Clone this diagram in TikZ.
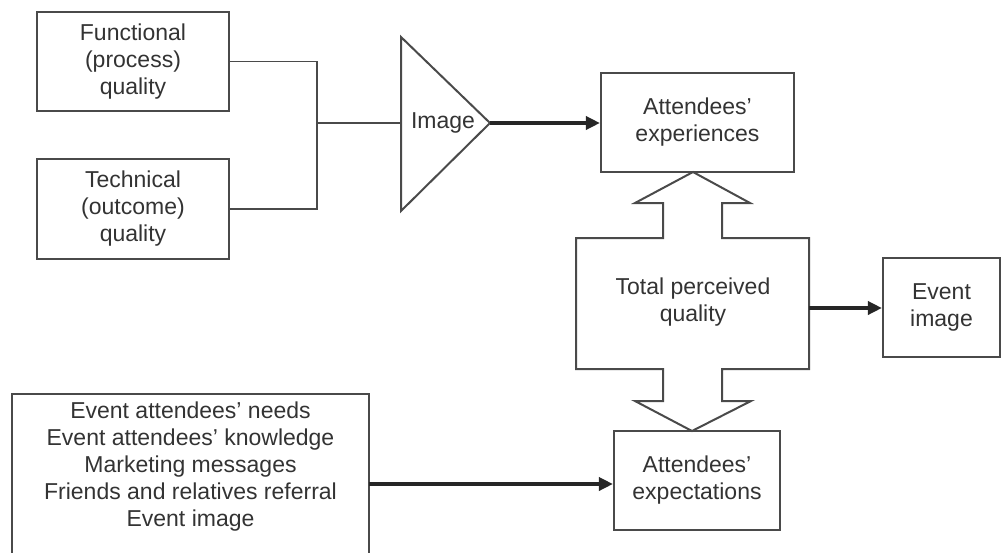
\documentclass[tikz,border=0pt]{standalone}
\usepackage{fontspec}
\setmainfont{Liberation Sans}
\usetikzlibrary{arrows.meta}
\definecolor{ink}{HTML}{333333}
\definecolor{edge}{HTML}{4A4A4A}
\begin{document}
\begin{tikzpicture}[x=1pt,y=-1pt,
  every node/.style={text=ink,font=\fontsize{23}{27}\selectfont,align=center,inner sep=0pt},
  box/.style={draw=edge,line width=2.1pt,rectangle},
  link/.style={draw=edge,line width=1.8pt},
  flow/.style={draw=black!85,line width=3.4pt,-{Triangle[length=14pt,width=13pt]}},
  outline/.style={draw=edge,line width=2pt,line join=miter}]
\useasboundingbox (0,0) rectangle (1002,552);

% quality inputs
\node[box,minimum width=192pt,minimum height=99pt] (func) at (133,61.5) {Functional\\(process)\\quality};
\node[box,minimum width=192pt,minimum height=100pt] (tech) at (133,209) {Technical\\(outcome)\\quality};

% image funnel
\coordinate (tl) at (401,37);
\coordinate (apex) at (490,123);
\coordinate (bl) at (401,211);
\coordinate (tin) at (401,123);
\draw[outline] (tl) -- (apex) -- (bl) -- cycle;
\node (img) at (443,123) {Image};

% joining the two inputs
\coordinate (jn) at (317,123);
\draw[link] (func.east) -| (jn) |- (tech.east);
\draw[link] (jn) -- (tin);

% experiences and expectations
\node[box,minimum width=193pt,minimum height=99pt] (exp) at (697.5,122.5) {Attendees'\\experiences};
\node[box,minimum width=166pt,minimum height=99pt] (expect) at (697,480.5) {Attendees'\\expectations};
\draw[flow] (apex) -- (exp.west |- apex);

% total perceived quality double arrow
\draw[outline]
  (693,172) -- (750,203) -- (722,203) -- (722,238) -- (809,238) -- (809,369)
  -- (722,369) -- (722,401) -- (751,401) -- (692,431) -- (635,401) -- (663,401)
  -- (663,369) -- (576,369) -- (576,238) -- (663,238) -- (663,203) -- (635,203) -- cycle;
\node (tpq) at (693,302) {Total perceived\\quality};
\coordinate (tpqr) at (809,308);

% event image
\node[box,minimum width=117pt,minimum height=99pt] (eimg) at (941.5,307.5) {Event\\image};
\draw[flow] (tpqr) -- (eimg.west |- tpqr);

% expectation sources
\draw[box] (12,570) -- (12,394) -- (369,394) -- (369,570);
\node (src) at (190.5,466.5) {Event attendees' needs\\Event attendees' knowledge\\Marketing messages\\Friends and relatives referral\\Event image};
\coordinate (srcr) at (369,484);
\draw[flow] (srcr) -- (expect.west |- srcr);
\end{tikzpicture}
\end{document}
